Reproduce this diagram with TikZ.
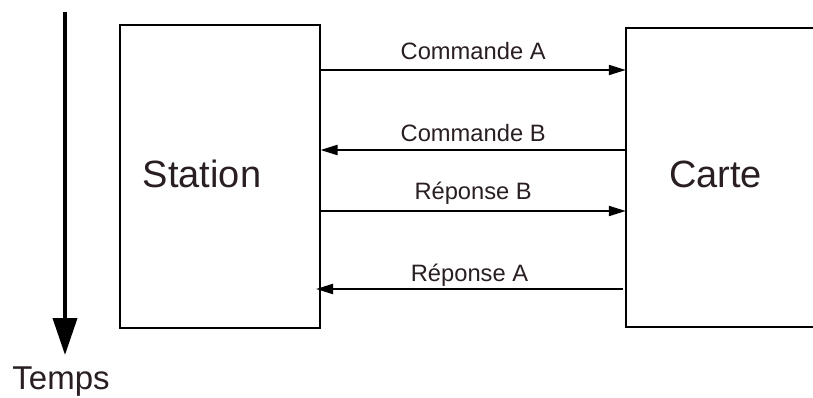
\documentclass[tikz,border=0pt]{standalone}
\usepackage{fontspec}
\setmainfont{Liberation Sans}
\usetikzlibrary{arrows.meta}
\definecolor{ink}{RGB}{40,30,36}
\tikzset{
  box/.style={draw=black,line width=2pt,inner sep=0pt},
  msg/.style={draw=black,line width=2pt,-{Triangle[length=17pt,width=10pt]}},
  lbl/.style={text=ink,inner sep=0pt,anchor=base,font=\fontsize{23.7}{28}\selectfont},
  big/.style={text=ink,inner sep=0pt,anchor=base,font=\fontsize{38}{44}\selectfont},
}
\begin{document}
\begin{tikzpicture}[x=1pt,y=-1pt]
\useasboundingbox (0,0) rectangle (813,398);
% boxes
\node[box,minimum width=200pt,minimum height=302pt] (station) at (219.5,176.5) {};
\node[inner sep=0pt,minimum width=187pt,minimum height=299pt] (carte) at (719.5,177.5) {};
\draw[line width=2pt] (carte.north east) -- (carte.north west) -- (carte.south west) -- (carte.south east);
\node[big] (stationtxt) at (202,187) {Station};
\node[big] (cartetxt) at (715.5,187) {Carte};
% levels
\coordinate (yA) at (0,70);
\coordinate (yB) at (0,150);
\coordinate (yC) at (0,211);
\coordinate (yD) at (0,289);
\draw[msg] (station.east |- yA) -- node[lbl,yshift=10pt] (la) {Commande A} (carte.west |- yA);
\draw[msg] (carte.west |- yB) -- node[lbl,yshift=8pt] (lb) {Commande B} (station.east |- yB);
\draw[msg] (station.east |- yC) -- node[lbl,yshift=11pt] (lc) {Réponse B} (carte.west |- yC);
\coordinate (dstart) at (623,289);
\coordinate (dend) at (316,289);
\draw[msg] (dstart) -- node[lbl,yshift=8pt] (ld) {Réponse A} (dend);
% time arrow
\coordinate (tstart) at (65,12);
\coordinate (tend) at (65,355);
\draw[line width=4pt,-{Triangle[length=37pt,width=24pt]}] (tstart) -- (tend);
\node[text=ink,inner sep=0pt,anchor=base,font=\fontsize{33}{38}\selectfont] (temps) at (61,389) {Temps};
\end{tikzpicture}
\end{document}
